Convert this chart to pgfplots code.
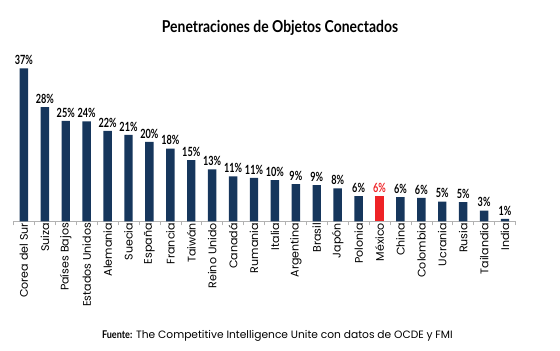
\documentclass[border=0pt]{standalone}
\usepackage{fontspec}
\setmainfont{Poppins}
\newfontfamily\valfont{Lato}[FakeStretch=0.85]
\newfontfamily\numfont{Lato}[FakeStretch=0.72]
\usepackage{pgfplots}
\pgfplotsset{compat=1.18}
\usepackage{pgfplotstable}
\definecolor{navy}{RGB}{22,54,92}
\definecolor{mxred}{RGB}{238,34,38}
\pgfplotstableread{
x y lbl
0 37.0 37
1 27.6 28
2 24.3 25
3 24.2 24
4 21.9 22
5 20.9 21
6 19.2 20
7 17.6 18
8 14.8 15
9 12.6 13
10 10.9 11
11 10.5 11
12 10.0 10
13 9.0 9
14 8.8 9
15 8.0 8
16 6.1 6
18 5.9 6
19 5.7 6
20 4.8 5
21 4.7 5
22 2.6 3
23 0.6 1
}\datanavy
\pgfplotstableread{
x y lbl
17 6.1 6
}\datamx
\begin{document}
\begin{tikzpicture}
\useasboundingbox (0,0) rectangle (420pt,262.5pt);
\begin{axis}[
  at={(10.1pt,96.4pt)}, anchor=south west,
  scale only axis, width=376.5pt, height=124.2pt,
  xmin=-0.5, xmax=23.5, ymin=0, ymax=40,
  axis x line=bottom, axis y line=none,
  x axis line style={-, gray!60},
  xtick={0,...,23},
  xticklabels={Corea del Sur,Suiza,Países Bajos,Estados Unidos,Alemania,Suecia,España,Francia,Taiwán,Reino Unido,Canadá,Rumania,Italia,Argentina,Brasil,Japón,Polonia,México,China,Colombia,Ucrania,Rusia,Tailandia,India},
  major tick length=0pt,
  minor xtick={-0.5,0.5,...,23.5},
  minor tick length=3pt,
  tick align=outside,
  every tick/.style={gray!60},
  xticklabel style={rotate=90, anchor=east, inner sep=1pt, font=\fontsize{8.3}{9}\selectfont, text=black},
  ybar, bar width=6.3pt, bar shift=0pt,
  point meta=explicit symbolic,
  nodes near coords={\pgfplotspointmeta\%},
  every node near coord/.append style={font=\numfont\bfseries\fontsize{9.5}{10}\selectfont, inner sep=2.5pt},
  clip=false,
]
\addplot[fill=navy, draw=none, nodes near coords style={text=black}] table[x=x,y=y,meta=lbl] {\datanavy};
\addplot[fill=mxred, draw=none, nodes near coords style={text=mxred}] table[x=x,y=y,meta=lbl] {\datamx};
\end{axis}
\node[font=\valfont\bfseries\fontsize{12.3}{14}\selectfont] at (210pt,241.5pt) {Penetraciones de Objetos Conectados};
\node[font=\fontsize{8}{9}\selectfont] at (208pt,10.5pt) {{\valfont\bfseries Fuente:} The Competitive Intelligence Unite con datos de OCDE y FMI};
\end{tikzpicture}
\end{document}
